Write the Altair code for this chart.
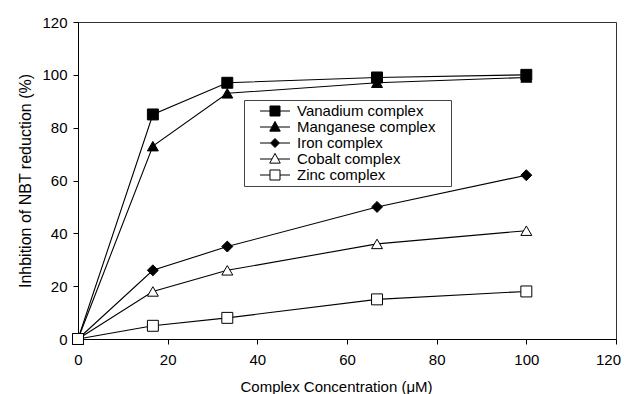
import altair as alt
import pandas as pd

conc = [0, 16.7, 33.3, 66.7, 100]
series_names = ["Vanadium complex", "Manganese complex", "Iron complex",
                "Cobalt complex", "Zinc complex"]
vanadium = [0, 85, 97, 99, 100]
manganese = [0, 73, 93, 97, 99]
iron = [0, 26, 35, 50, 62]
cobalt = [0, 18, 26, 36, 41]
zinc = [0, 5, 8, 15, 18]
x_ticks = [0, 20, 40, 60, 80, 100, 120]
y_ticks = [0, 20, 40, 60, 80, 100, 120]

values = [vanadium, manganese, iron, cobalt, zinc]
rows = []
for name, vals in zip(series_names, values):
    for c, v in zip(conc, vals):
        rows.append({"series": name, "conc": c, "inhib": v})
df = pd.DataFrame(rows)

FONT = "Liberation Sans"
shapes = ["square", "triangle-up", "diamond", "triangle-up", "square"]
fills = ["black", "black", "black", "white", "white"]
strokes = ["black"] * 5

sq = "M-2,0H-0.667M0.667,0H2M-0.667,-0.667H0.667V0.667H-0.667Z"
tri = "M-2,0H-0.4M0.4,0H2M0,-0.75L0.7,0.55H-0.7Z"
dia = "M-2,0H-0.6M0.6,0H2M0,-0.6L0.6,0L0,0.6L-0.6,0Z"
legend_paths = [sq, tri, dia, tri, sq]

x_enc = alt.X("conc:Q", scale=alt.Scale(domain=[0, 120], nice=False),
              axis=alt.Axis(values=x_ticks, title="Complex Concentration (μM)",
                            grid=False, tickSize=5, labelPadding=8, labelFlush=False,
                            labelOffset={"expr": "datum.value == 120 ? -8 : 0"},
                            titlePadding=12, titleX=258))
y_enc = alt.Y("inhib:Q", scale=alt.Scale(domain=[0, 120], nice=False),
              axis=alt.Axis(values=y_ticks, title="Inhbition of NBT reduction (%)",
                            grid=False, tickSize=5, labelPadding=6, labelFlush=False,
                            titlePadding=8, titleFontSize=16))

lines = alt.Chart(df).mark_line(color="black", strokeWidth=1.1).encode(
    x=x_enc, y=y_enc, detail="series:N")

points = alt.Chart(df).mark_point(filled=True, stroke="black", strokeWidth=1,
                                  opacity=1, size=120).encode(
    x=x_enc, y=y_enc,
    shape=alt.Shape("series:N", scale=alt.Scale(domain=series_names, range=shapes),
                    legend=None),
    fill=alt.Fill("series:N", scale=alt.Scale(domain=series_names, range=fills),
                  legend=None),
)

legend_layer = alt.Chart(df).transform_filter("datum.conc < -1").mark_point(
    filled=True, strokeWidth=1, opacity=1).encode(
    x=x_enc, y=y_enc,
    shape=alt.Shape("series:N", scale=alt.Scale(domain=series_names, range=legend_paths),
                    legend=alt.Legend(title=None, orient="none", legendX=166, legendY=78,
                                      symbolSize=225, symbolStrokeWidth=1,
                                      labelFont=FONT, labelFontSize=15,
                                      labelColor="black", labelOffset=14,
                                      symbolOffset=20, padding=3, rowPadding=0,
                                      strokeColor="#444", fillColor="white",
                                      labelExpr="datum.label + '\u00a0\u00a0\u00a0\u200b'")),
    fill=alt.Fill("series:N", scale=alt.Scale(domain=series_names, range=fills)),
    stroke=alt.Stroke("series:N", scale=alt.Scale(domain=series_names, range=strokes)),
)

chart = alt.layer(lines, points, legend_layer).resolve_scale(
    shape="independent", fill="independent", stroke="independent"
).properties(
    width=538, height=317,
    padding={"left": 70, "top": 14, "right": 5, "bottom": 55},
    autosize=alt.AutoSizeParams(type="none"),
).configure_view(stroke="#333", strokeWidth=1).configure_axis(
    labelFont=FONT, titleFont=FONT, labelFontSize=15, titleFontSize=15,
    titleFontWeight="normal", labelColor="black", titleColor="black",
    domainColor="black", tickColor="black",
)

chart.save("out.html", embed_options={"renderer": "svg", "actions": False})
